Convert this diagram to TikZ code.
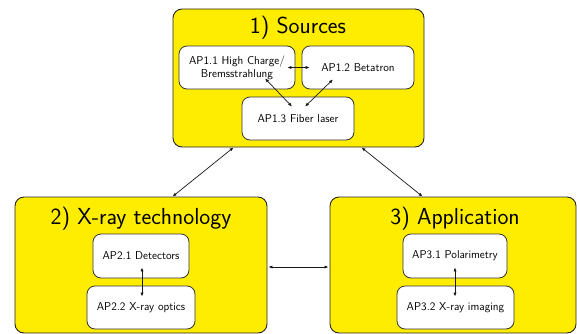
\documentclass[tikz,border=0pt]{standalone}
\usetikzlibrary{arrows.meta,calc}
\definecolor{boxyellow}{RGB}{255,237,0}
\tikzset{
  outerbox/.style={draw=black!85,fill=boxyellow,line width=0.9pt,rounded corners=9pt,inner sep=0pt},
  innerbox/.style={draw=black!80,fill=white,line width=0.8pt,rounded corners=8pt,inner sep=0pt,align=center,
    font=\sffamily\fontsize{11.4}{13}\selectfont},
  titletext/.style={font=\sffamily\fontsize{23.2}{26}\selectfont,inner sep=0pt},
  biarrow/.style={{Latex[length=4pt,width=3.2pt]}-{Latex[length=4pt,width=3.2pt]},line width=0.7pt,black!90}
}
\begin{document}
\begin{tikzpicture}[x=1pt,y=1pt]
\useasboundingbox (0,0) rectangle (577,333);
% outer boxes
\node[outerbox,minimum width=251pt,minimum height=138pt] (b1) at (298.5,255) {};
\node[outerbox,minimum width=252pt,minimum height=136pt] (b2) at (141,68) {};
\node[outerbox,minimum width=246pt,minimum height=136pt] (b3) at (453,68) {};
% titles
\node[titletext] (t1) at (298,305) {1) Sources};
\node[titletext] (t2) at (141,114) {2) X-ray technology};
\node[titletext] (t3) at (455,114) {3) Application};
% inner boxes
\node[innerbox,minimum width=116pt,minimum height=43pt] (a11) at (237,265.5) {AP1.1 High Charge/\\Bremsstrahlung};
\node[innerbox,minimum width=112pt,minimum height=43pt] (a12) at (358,265.5) {AP1.2 Betatron};
\node[innerbox,minimum width=112pt,minimum height=43pt] (a13) at (298,214.5) {AP1.3 Fiber laser};
\node[innerbox,minimum width=96pt,minimum height=44pt] (a21) at (141,77) {AP2.1 Detectors};
\node[innerbox,minimum width=108pt,minimum height=43pt] (a22) at (141,25.5) {AP2.2 X-ray optics};
\node[innerbox,minimum width=104pt,minimum height=44pt] (a31) at (455,77) {AP3.1 Polarimetry};
\node[innerbox,minimum width=117pt,minimum height=43pt] (a32) at (455.5,25.5) {AP3.2 X-ray imaging};
% inner arrows
\draw[biarrow] ($(a11.east)+(-8,0)$) -- ($(a12.west)+(8,0)$);
\draw[biarrow] ($(a11.south)+(28,11)$) -- ($(a13.north)+(-6,-10)$);
\draw[biarrow] ($(a12.south)+(-25,10)$) -- ($(a13.north)+(7,-10)$);
\draw[biarrow] ($(a21.south)+(1,11)$) -- ($(a22.north)+(1,-11)$);
\draw[biarrow] ($(a31.south)+(0,11)$) -- ($(a32.north)+(-0.5,-11)$);
% outer arrows
\draw[biarrow] ($(b1.south west)+(61,0)$) -- ($(b2.north west)+(158,0)$);
\draw[biarrow] ($(b1.south west)+(189,0)$) -- ($(b3.north west)+(93,0)$);
\draw[biarrow] ($(b2.east)+(1,-2)$) -- ($(b3.west)+(-1,-2)$);
\end{tikzpicture}
\end{document}
